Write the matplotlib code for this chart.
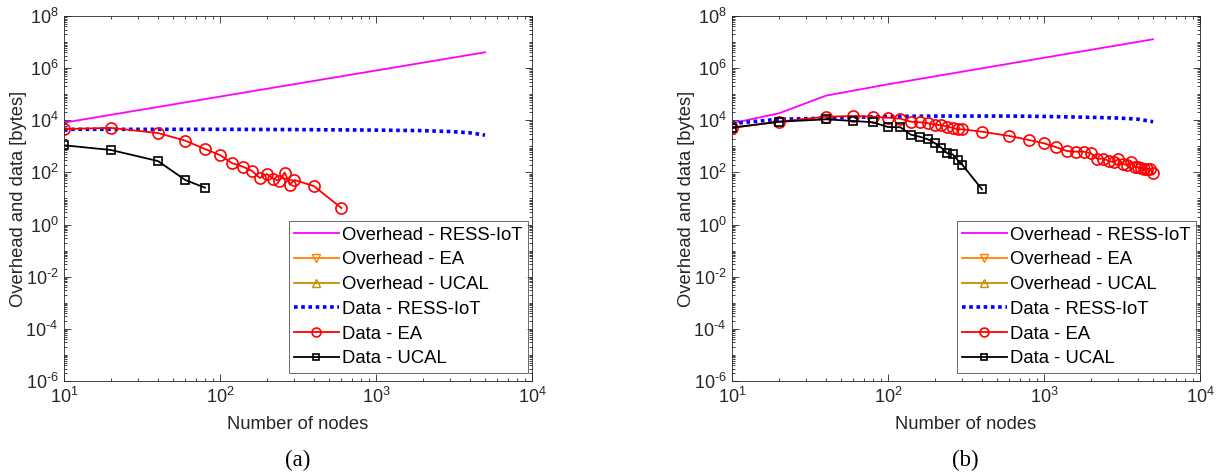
import numpy as np
import matplotlib
matplotlib.use('Agg')
import matplotlib.pyplot as plt
from matplotlib.ticker import LogLocator, NullFormatter, FixedLocator, FuncFormatter

plt.rcParams['font.family'] = ['Liberation Sans', 'DejaVu Sans']
plt.rcParams['mathtext.default'] = 'regular'

# ---- data, panel (a) ----
a_ress_over_x = [10, 100, 1000, 5000]
a_ress_over_y = [8.1e3, 8.1e4, 8.1e5, 4.05e6]
a_ress_data_x = [10, 20, 40, 100, 300, 1000, 2000, 3000, 4000, 5000]
a_ress_data_y = [4.5e3, 4.5e3, 4.5e3, 4.5e3, 4.4e3, 4.2e3, 4.0e3, 3.7e3, 3.3e3, 2.7e3]
a_ea_x = [10, 20, 40, 60, 80, 100, 120, 140, 160, 180, 200, 220, 240, 260, 280, 300, 400, 600]
a_ea_y = [4.6e3, 5.1e3, 3.25e3, 1.65e3, 790, 465, 224, 166, 116, 61, 87, 57, 48, 98, 34, 51, 30, 4.3]
a_ucal_x = [10, 20, 40, 60, 80]
a_ucal_y = [1.1e3, 725, 274, 51, 26]

# ---- data, panel (b) ----
b_ress_over_x = [10, 20, 40, 100, 1000, 5000]
b_ress_over_y = [7.7e3, 1.85e4, 8.8e4, 2.4e5, 2.5e6, 1.28e7]
b_ress_data_x = [10, 20, 40, 60, 80, 100, 200, 400, 600, 1000, 2000, 3000, 4000, 5000]
b_ress_data_y = [7.5e3, 1.1e4, 1.2e4, 1.3e4, 1.35e4, 1.4e4, 1.45e4, 1.45e4, 1.45e4, 1.4e4,
                 1.3e4, 1.22e4, 1.1e4, 8.8e3]
b_ea_x = [10, 20, 40, 60, 80, 100, 120, 140, 160, 180, 200, 220, 240, 260, 280, 300,
          400, 600, 800, 1000, 1200, 1400, 1600, 1800, 2000, 2200, 2400, 2600, 2800,
          3000, 3200, 3400, 3600, 3800, 4000, 4200, 4400, 4600, 4800, 5000]
b_ea_y = [5.2e3, 8.8e3, 1.37e4, 1.46e4, 1.37e4, 1.26e4, 1.15e4, 8.8e3, 8.4e3, 7.7e3,
          6.8e3, 6.5e3, 5.7e3, 5.1e3, 4.5e3, 4.5e3, 3.65e3, 2.5e3, 1.75e3, 1.31e3,
          920, 663, 624, 624, 540, 327, 340, 274, 245, 327, 210, 193, 258, 166, 157,
          144, 135, 138, 132, 92]
b_ucal_x = [10, 20, 40, 60, 80, 100, 120, 140, 160, 180, 200, 220, 240, 260, 280, 300, 400]
b_ucal_y = [5.2e3, 8.8e3, 1.09e4, 9.4e3, 8.4e3, 5.5e3, 5.4e3, 2.8e3, 2.35e3, 1.86e3,
            1.31e3, 880, 540, 490, 290, 193, 22.5]

labels = ['Overhead - RESS-IoT', 'Overhead - EA', 'Overhead - UCAL',
          'Data - RESS-IoT', 'Data - EA', 'Data - UCAL']

dark = '#262626'


def pow10(v, pos):
    # MATLAB style: short hyphen for negative exponents
    e = int(round(np.log10(v)))
    s = str(abs(e))
    if e < 0:
        s = '\u2010' + s
    return '$10^{' + s + '}$'


def draw(ax, ro_x, ro_y, rd_x, rd_y, ea_x, ea_y, uc_x, uc_y):
    ax.plot(ro_x, ro_y, color='#FF00FF', lw=1.3, label=labels[0])
    # overhead of EA and UCAL is not visible in the plot, only in the legend
    ax.plot([], [], color='#FF8000', lw=1.3, marker='v', ms=8, mfc='none', label=labels[1])
    ax.plot([], [], color='#C09000', lw=1.3, marker='^', ms=8, mfc='none', label=labels[2])
    ax.plot(rd_x, rd_y, color='#0000FF', lw=2.6, ls=(0, (1, 1)), label=labels[3])
    ax.plot(ea_x, ea_y, color='#FF0000', lw=1.3, marker='o', ms=8, mfc='none', mew=1.2, label=labels[4])
    ax.plot(uc_x, uc_y, color='black', lw=1.3, marker='s', ms=6, mfc='none', mew=1.2, label=labels[5])

    ax.set_xscale('log')
    ax.set_yscale('log')
    ax.set_xlim(10, 1e4)
    ax.set_ylim(1e-6, 1e8)
    ax.xaxis.set_major_locator(FixedLocator([1e1, 1e2, 1e3, 1e4]))
    ax.yaxis.set_major_locator(FixedLocator([10.0 ** k for k in range(-6, 9, 2)]))
    ax.xaxis.set_major_formatter(FuncFormatter(pow10))
    ax.yaxis.set_major_formatter(FuncFormatter(pow10))
    ax.xaxis.set_minor_locator(LogLocator(base=10, subs=np.arange(1, 10), numticks=100))
    ax.yaxis.set_minor_locator(LogLocator(base=10, subs=np.arange(1, 10), numticks=100))
    ax.xaxis.set_minor_formatter(NullFormatter())
    ax.yaxis.set_minor_formatter(NullFormatter())
    ax.tick_params(which='both', direction='in', top=True, right=True, colors=dark,
                   labelsize=13, width=0.6)
    ax.tick_params(which='major', length=5, pad=4)
    ax.tick_params(which='minor', length=2.5)
    for s in ax.spines.values():
        s.set_color(dark)
        s.set_linewidth(0.6)
    ax.set_xlabel('Number of nodes', fontsize=13.2, color=dark, labelpad=7)
    ax.set_ylabel('Overhead and data [bytes]', fontsize=13.2, color=dark)
    ax.yaxis.set_label_coords(-0.08, 0.5)
    leg = ax.legend(loc='lower right', bbox_to_anchor=(0.992, 0.022), borderaxespad=0,
                    fontsize=13.3, frameon=True, fancybox=False, handlelength=2.4,
                    handletextpad=0.2, labelspacing=0.42, borderpad=0.3,
                    markerscale=0.8)
    leg.get_frame().set_edgecolor(dark)
    leg.get_frame().set_linewidth(0.6)


fig = plt.figure(figsize=(12.16, 4.76), dpi=100)
ax1 = fig.add_axes([0.0526, 0.1996, 0.3849, 0.7668])
ax2 = fig.add_axes([0.602, 0.1996, 0.3849, 0.7668])

draw(ax1, a_ress_over_x, a_ress_over_y, a_ress_data_x, a_ress_data_y,
     a_ea_x, a_ea_y, a_ucal_x, a_ucal_y)
draw(ax2, b_ress_over_x, b_ress_over_y, b_ress_data_x, b_ress_data_y,
     b_ea_x, b_ea_y, b_ucal_x, b_ucal_y)

fig.text(0.245, 0.033, '(a)', ha='center', va='center', fontsize=16.5, family='Liberation Serif')
fig.text(0.794, 0.033, '(b)', ha='center', va='center', fontsize=16.5, family='Liberation Serif')

fig.savefig('out.png', dpi=100)
